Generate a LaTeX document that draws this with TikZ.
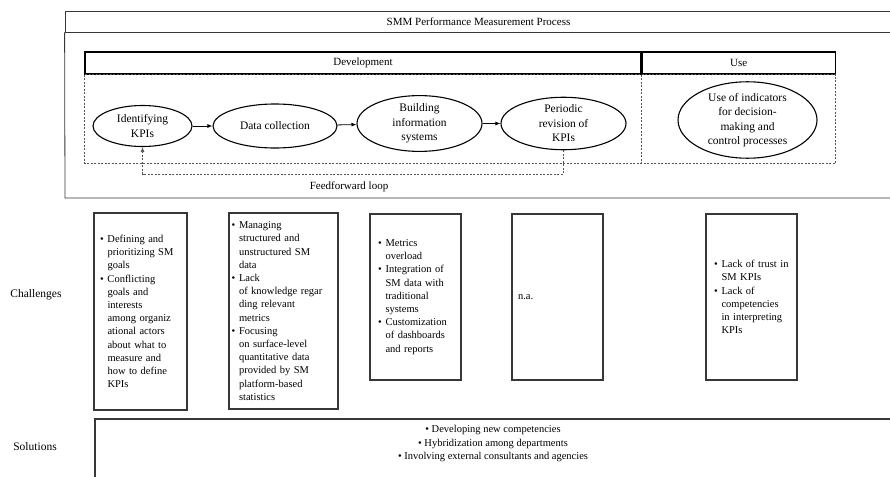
\documentclass[tikz,border=0pt]{standalone}
\usepackage{fontspec}
\setmainfont{Liberation Serif}
\usetikzlibrary{shapes.geometric,arrows.meta}
\definecolor{framecol}{RGB}{55,55,55}
\definecolor{dashcol}{RGB}{85,85,85}
\newcommand{\bitem}[1]{\makebox[7.5pt][l]{\textbullet}#1}
\newcommand{\bcont}[1]{\hspace*{7.5pt}#1}

\begin{document}
\begin{tikzpicture}[x=1pt,y=-1pt,
  >={Latex[length=5pt,width=4pt]},
  every node/.style={font=\fontsize{11}{14}\selectfont},
  stage/.style={draw, ellipse, line width=1.1pt, inner sep=0pt, align=center,
    font=\fontsize{11.5}{14.5}\selectfont},
  head/.style={draw, line width=1.1pt, minimum height=22pt, inner sep=0pt},
  cbox/.style={draw=framecol, line width=1.3pt, align=left, inner ysep=0pt,
    font=\fontsize{10.5}{13.2}\selectfont},
  loopline/.style={dashcol, dash pattern=on 2pt off 1.5pt, line width=0.7pt}]
  \useasboundingbox (0,0) rectangle (890,476);
  \clip (0,0) rectangle (890,476);

  % Process frame
  \node[draw=framecol, line width=0.8pt, minimum width=827pt, minimum height=21pt, inner sep=0pt]
    (title) at (478.5,21.5) {SMM Performance Measurement Process};
  \coordinate (frameBL) at (65,198);
  \coordinate (frameBR) at (892,198);
  \draw[framecol, line width=0.8pt] (title.south west) -- (frameBL) -- (frameBR) -- (title.south east);
  \draw[framecol, line width=1.4pt] (title.south west) -- (title.south east);

  % Development / Use phases
  \node[head, minimum width=556pt] (dev) at (363,63) {Development};
  \node[head, minimum width=193pt, anchor=west] (use) at (dev.east) {Use};
  \coordinate (dashBot) at (0,163);
  \draw[loopline] (dev.south west) rectangle (use.south east |- dashBot);
  \draw[loopline] (dev.south east) -- (dev.south east |- dashBot);

  % Stages
  \node[stage, minimum width=99pt, minimum height=41pt] (idkpi) at (142.5,126) {Identifying\\KPIs};
  \node[stage, minimum width=124pt, minimum height=44pt] (datcol) at (275,126) {Data collection};
  \node[stage, minimum width=125pt, minimum height=47pt] (buildis) at (419.5,123.5) {Building\\information\\systems};
  \node[stage, minimum width=125pt, minimum height=47pt] (revkpi) at (563.5,123.5) {Periodic\\revision of\\KPIs};
  \node[stage, minimum width=139pt, minimum height=66pt] (useind) at (747.5,120)
    {Use of indicators\\for decision-\\making and\\control processes};
  \foreach \a/\b in {idkpi/datcol, datcol/buildis, buildis/revkpi}
    \draw[->, line width=0.8pt] (\a) -- (\b);

  % Feedforward loop
  \coordinate (loopY) at (0,174);
  \draw[loopline, ->] (revkpi.south) |- (idkpi.south |- loopY) -- (idkpi.south);
  \node (ffl) at (349,187) {Feedforward loop};

  % Challenges
  \node (chlab) at (36,295) {\fontsize{11.5}{14}\selectfont Challenges};
  \node[cbox, minimum width=93pt, minimum height=197pt, inner xsep=6pt, text width=81pt]
    (ch1) at (140.5,311.5) {\bitem{Defining and}\\ \bcont{prioritizing SM}\\ \bcont{goals}\\
    \bitem{Conflicting}\\ \bcont{goals and}\\ \bcont{interests}\\ \bcont{among organiz}\\
    \bcont{ational actors}\\ \bcont{about what to}\\ \bcont{measure and}\\ \bcont{how to define}\\ \bcont{KPIs}};
  \node[cbox, minimum width=109pt, minimum height=196pt, inner xsep=2.5pt, text width=104pt]
    (ch2) at (283.5,311) {\bitem{Managing}\\ \bcont{structured and}\\ \bcont{unstructured SM}\\ \bcont{data}\\
    \bitem{Lack}\\ \bcont{of knowledge regar}\\ \bcont{ding relevant}\\ \bcont{metrics}\\
    \bitem{Focusing}\\ \bcont{on surface-level}\\ \bcont{quantitative data}\\ \bcont{provided by SM}\\
    \bcont{platform-based}\\ \bcont{statistics}};
  \node[cbox, minimum width=91pt, minimum height=166pt, inner xsep=8pt, text width=75pt]
    (ch3) at (415.5,297) {\bitem{Metrics}\\ \bcont{overload}\\ \bitem{Integration of}\\ \bcont{SM data with}\\
    \bcont{traditional}\\ \bcont{systems}\\ \bitem{Customization}\\ \bcont{of dashboards}\\ \bcont{and reports}};
  \node[cbox, minimum width=91pt, minimum height=166pt, inner xsep=6pt, text width=79pt]
    (ch4) at (557.5,297) {n.a.};
  \node[cbox, minimum width=91pt, minimum height=166pt, inner xsep=8pt, text width=75pt]
    (ch5) at (751.5,297) {\bitem{Lack of trust in}\\ \bcont{SM KPIs}\\ \bitem{Lack of}\\ \bcont{competencies}\\
    \bcont{in interpreting}\\ \bcont{KPIs}};

  % Solutions
  \node (sollab) at (35,447) {\fontsize{11.5}{14}\selectfont Solutions};
  \coordinate (solTL) at (95,419);
  \coordinate (solBR) at (893,482);
  \draw[framecol, line width=1.3pt] (solTL) rectangle (solBR);
  \node[align=center, font=\fontsize{10.5}{13.3}\selectfont] (soltxt) at (493,443.5)
    {\textbullet\ Developing new competencies\\ \textbullet\ Hybridization among departments\\
    \textbullet\ Involving external consultants and agencies};
\end{tikzpicture}
\end{document}
